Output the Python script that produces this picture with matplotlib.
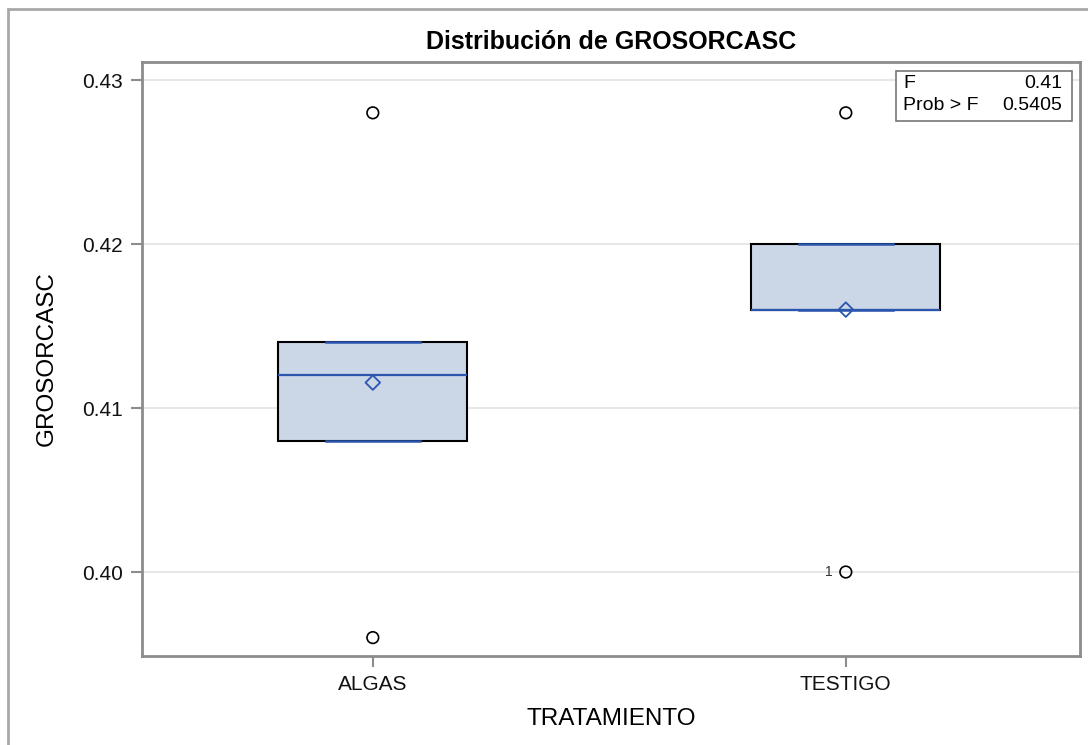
import matplotlib.pyplot as plt
from matplotlib.patches import Rectangle

plt.rcParams['font.family'] = ['Liberation Sans', 'DejaVu Sans']

# data
groups = ['ALGAS', 'TESTIGO']
q1 = [0.408, 0.416]
median = [0.412, 0.416]
q3 = [0.414, 0.420]
mean = [0.41155, 0.416]
outliers = [[0.428, 0.396], [0.428, 0.400]]
outlier_ids = [[], ['1']]
f_value = '0.41'
prob_f = '0.5405'

BOX_FILL = '#cbd6e6'
BLUE = '#2b56b0'
SPINE = '#8c8c8c'

fig = plt.figure(figsize=(10.88, 7.45), dpi=100)
ax = fig.add_axes([0.1305, 0.1195, 0.8621, 0.7973])

# outer frame of the graph (cut off at right/bottom)
fig.patches.append(Rectangle((8 / 1088, -0.1), 1.2, 1 - 9 / 745 + 0.1,
                             transform=fig.transFigure, fill=False,
                             edgecolor='#a8a8a8', lw=2))

stats = []
for i, g in enumerate(groups):
    stats.append(dict(label=g, q1=q1[i], med=median[i], q3=q3[i],
                      whislo=q1[i], whishi=q3[i], mean=mean[i], fliers=[]))

pos = list(range(len(groups)))
ax.bxp(stats, positions=pos, widths=0.40, patch_artist=True, showfliers=False,
       showmeans=False,
       boxprops=dict(facecolor=BOX_FILL, edgecolor='black', lw=1.5),
       medianprops=dict(color=BLUE, lw=1.6),
       whiskerprops=dict(color=BLUE, lw=0),
       capprops=dict(color=BLUE, lw=1.8), capwidths=0.2, zorder=3)

ax.scatter(pos, mean, marker='D', s=55, facecolor='none', edgecolor=BLUE,
           lw=1.3, zorder=5)
for i in pos:
    ax.scatter([i] * len(outliers[i]), outliers[i], marker='o', s=70,
               facecolor='none', edgecolor='black', lw=1.2, zorder=5)
    for lab, v in zip(outlier_ids[i], outliers[i][-len(outlier_ids[i]):] if outlier_ids[i] else []):
        ax.text(i - 0.028, v, lab, ha='right', va='center', fontsize=10,
                color='#333333')

ax.set_xlim(-0.488, 1.495)
ax.set_ylim(0.39488, 0.4311)
ax.set_yticks([0.40, 0.41, 0.42, 0.43])
ax.set_yticklabels(['0.40', '0.41', '0.42', '0.43'])
ax.set_xticks(pos)
ax.set_xticklabels(groups)
ax.grid(axis='y', color='#e3e3e3', lw=1.2, zorder=0)
ax.set_axisbelow(True)

for s in ax.spines.values():
    s.set_color(SPINE)
    s.set_linewidth(2)
ax.tick_params(axis='both', colors=SPINE, length=8, width=1.5,
               labelcolor='#111111', labelsize=15, pad=6)

ax.set_xlabel('TRATAMIENTO', fontsize=17.5, labelpad=10)
ax.set_ylabel('GROSORCASC', fontsize=17.5, labelpad=17)
ax.set_title('Distribución de GROSORCASC', fontsize=18, fontweight='bold', pad=9)

# F test inset
ax.add_patch(Rectangle((896 / 1088, 1 - 121 / 745), 176 / 1088, 50 / 745,
                       transform=fig.transFigure, facecolor='white',
                       edgecolor='#777777', lw=1.2, zorder=6))
fig.text(903 / 1088, 1 - 84 / 745, 'F', fontsize=14, va='center', zorder=7)
fig.text(1062 / 1088, 1 - 84 / 745, f_value, fontsize=14, va='center', ha='right', zorder=7)
fig.text(903 / 1088, 1 - 106 / 745, 'Prob > F', fontsize=14, va='center', zorder=7)
fig.text(1062 / 1088, 1 - 106 / 745, prob_f, fontsize=14, va='center', ha='right', zorder=7)

fig.savefig('out.png', dpi=100)
